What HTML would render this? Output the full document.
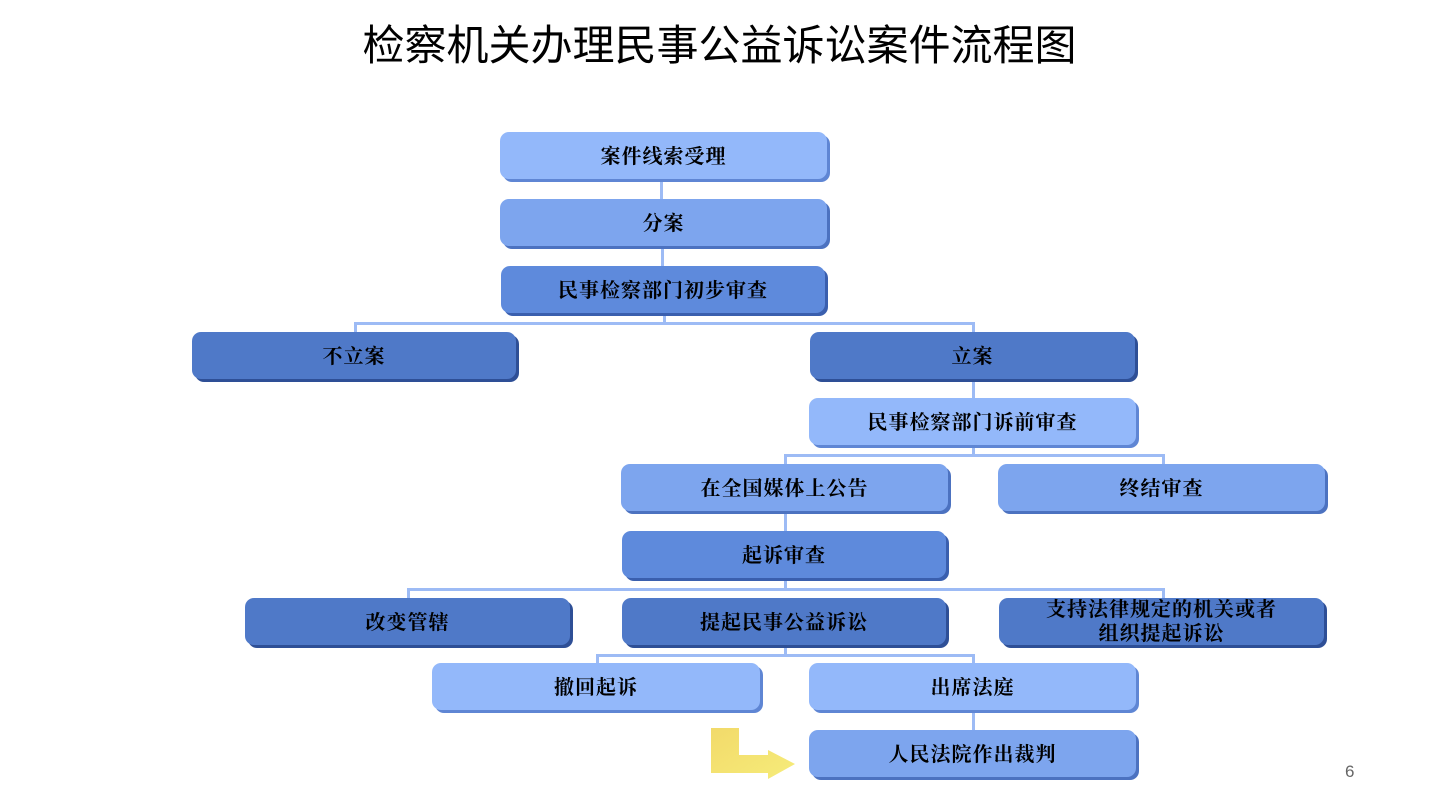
<!DOCTYPE html>
<html><head><meta charset="utf-8"><style>
body{margin:0;width:1439px;height:810px;background:#fff;position:relative;overflow:hidden;font-family:"Liberation Serif","Noto Serif CJK SC","Noto Sans CJK SC",serif;}
.t{position:absolute;left:0;width:1439px;top:20px;text-align:center;font-size:42px;line-height:52px;font-family:"Liberation Sans","Noto Sans CJK SC",sans-serif;color:#000}
.b{position:absolute;height:47px;box-sizing:border-box;padding-top:3px;border-radius:9px;display:flex;align-items:center;justify-content:center;font-size:20px;letter-spacing:1px;font-weight:bold;color:#000;line-height:24px;text-align:center}
.L{background:#93B8FA;box-shadow:3px 3px 0 #5F86D4}
.M{background:#7DA5EE;box-shadow:3px 3px 0 #4C72C0}
.D{background:#5E8ADC;box-shadow:3px 3px 0 #3A5FAE}
.X{background:#4F79C8;box-shadow:3px 3px 0 #2E4F96}
.l{position:absolute;background:#9DBBF5}
.n{position:absolute;left:1345px;top:762px;font-size:17px;color:#666;font-family:"Liberation Sans",sans-serif}
</style></head><body>
<div class="t">检察机关办理民事公益诉讼案件流程图</div>
<div class="l" style="left:660px;top:180px;width:3px;height:20px"></div>
<div class="l" style="left:661px;top:245px;width:3px;height:22px"></div>
<div class="l" style="left:663px;top:311px;width:3px;height:13px"></div>
<div class="l" style="left:354px;top:322px;width:621px;height:3px"></div>
<div class="l" style="left:354px;top:322px;width:3px;height:12px"></div>
<div class="l" style="left:972px;top:322px;width:3px;height:12px"></div>
<div class="l" style="left:972px;top:378px;width:3px;height:21px"></div>
<div class="l" style="left:972px;top:445px;width:3px;height:11px"></div>
<div class="l" style="left:784px;top:454px;width:381px;height:3px"></div>
<div class="l" style="left:784px;top:454px;width:3px;height:12px"></div>
<div class="l" style="left:1162px;top:454px;width:3px;height:12px"></div>
<div class="l" style="left:784px;top:512px;width:3px;height:20px"></div>
<div class="l" style="left:784px;top:577px;width:3px;height:13px"></div>
<div class="l" style="left:407px;top:588px;width:758px;height:3px"></div>
<div class="l" style="left:407px;top:588px;width:3px;height:12px"></div>
<div class="l" style="left:1162px;top:588px;width:3px;height:12px"></div>
<div class="l" style="left:784px;top:643px;width:3px;height:12px"></div>
<div class="l" style="left:596px;top:654px;width:379px;height:3px"></div>
<div class="l" style="left:596px;top:654px;width:3px;height:10px"></div>
<div class="l" style="left:972px;top:654px;width:3px;height:10px"></div>
<div class="l" style="left:972px;top:712px;width:3px;height:19px"></div>
<div class="b L" style="left:500px;top:132px;width:327px">案件线索受理</div>
<div class="b M" style="left:500px;top:199px;width:327px">分案</div>
<div class="b D" style="left:501px;top:266px;width:324px">民事检察部门初步审查</div>
<div class="b X" style="left:192px;top:332px;width:324px">不立案</div>
<div class="b X" style="left:810px;top:332px;width:325px">立案</div>
<div class="b L" style="left:809px;top:398px;width:327px">民事检察部门诉前审查</div>
<div class="b M" style="left:621px;top:464px;width:327px">在全国媒体上公告</div>
<div class="b M" style="left:998px;top:464px;width:327px">终结审查</div>
<div class="b D" style="left:622px;top:531px;width:324px">起诉审查</div>
<div class="b X" style="left:245px;top:598px;width:325px">改变管辖</div>
<div class="b X" style="left:622px;top:598px;width:324px">提起民事公益诉讼</div>
<div class="b X" style="left:999px;top:598px;width:325px;padding-top:1px">支持法律规定的机关或者<br>组织提起诉讼</div>
<div class="b L" style="left:432px;top:663px;width:328px">撤回起诉</div>
<div class="b L" style="left:809px;top:663px;width:327px">出席法庭</div>
<div class="b M" style="left:809px;top:730px;width:327px">人民法院作出裁判</div>
<svg style="position:absolute;left:0;top:0" width="1439" height="810">
<defs><linearGradient id="g" x1="0" y1="0" x2="1" y2="1"><stop offset="0" stop-color="#F2DA6A"/><stop offset="1" stop-color="#F6EC7A"/></linearGradient></defs>
<polygon points="711,728 739,728 739,755 768,755 768,750 795,764 768,779 768,773 711,773" fill="url(#g)"/>
</svg>
<div class="n">6</div>
</body></html>
